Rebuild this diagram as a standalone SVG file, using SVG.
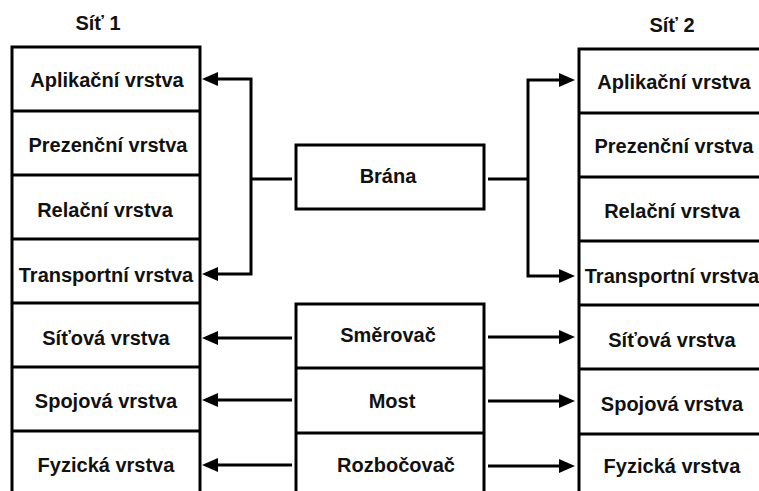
<svg xmlns="http://www.w3.org/2000/svg" width="759" height="491" viewBox="0 0 759 491">
  <style>
    .box { fill: #ffffff; stroke: #000000; stroke-width: 3; }
    .div { stroke: #000000; stroke-width: 3; }
    text { font-family: "Liberation Sans", Arial, sans-serif; font-weight: bold; font-size: 20px; fill: #111111; text-anchor: middle; }
    .conn { fill: none; stroke: #000000; stroke-width: 3; }
  </style>
  <defs>
    <marker id="head" markerUnits="userSpaceOnUse" markerWidth="17" markerHeight="15" refX="12" refY="7" orient="auto-start-reverse">
      <path d="M0,0 L16,7 L0,14 z" fill="#000000"/>
    </marker>
  </defs>

  <rect width="759" height="491" fill="#ffffff"/>

  <!-- Network 1 stack -->
  <g id="sit1">
    <text x="98" y="30">Síť 1</text>
    <rect class="box" x="12" y="47" width="188" height="460"/>
    <line class="div" x1="12" y1="111" x2="200" y2="111"/>
    <line class="div" x1="12" y1="175" x2="200" y2="175"/>
    <line class="div" x1="12" y1="239" x2="200" y2="239"/>
    <line class="div" x1="12" y1="303" x2="200" y2="303"/>
    <line class="div" x1="12" y1="367" x2="200" y2="367"/>
    <line class="div" x1="12" y1="431" x2="200" y2="431"/>
    <text x="107" y="87">Aplikační vrstva</text>
    <text x="108" y="152">Prezenční vrstva</text>
    <text x="105" y="217">Relační vrstva</text>
    <text x="106" y="282">Transportní vrstva</text>
    <text x="106" y="345">Síťová vrstva</text>
    <text x="106" y="408">Spojová vrstva</text>
    <text x="106" y="472">Fyzická vrstva</text>
  </g>

  <!-- Network 2 stack -->
  <g id="sit2">
    <text x="672" y="32">Síť 2</text>
    <rect class="box" x="579" y="49" width="190" height="460"/>
    <line class="div" x1="579" y1="113" x2="769" y2="113"/>
    <line class="div" x1="579" y1="177" x2="769" y2="177"/>
    <line class="div" x1="579" y1="241" x2="769" y2="241"/>
    <line class="div" x1="579" y1="305" x2="769" y2="305"/>
    <line class="div" x1="579" y1="369" x2="769" y2="369"/>
    <line class="div" x1="579" y1="434" x2="769" y2="434"/>
    <text x="674" y="89">Aplikační vrstva</text>
    <text x="674" y="153">Prezenční vrstva</text>
    <text x="672" y="218">Relační vrstva</text>
    <text x="672" y="283">Transportní vrstva</text>
    <text x="672" y="347">Síťová vrstva</text>
    <text x="672" y="411">Spojová vrstva</text>
    <text x="672" y="473">Fyzická vrstva</text>
  </g>

  <!-- Gateway -->
  <g id="brana">
    <rect class="box" x="296" y="145" width="188" height="64"/>
    <text x="388" y="183">Brána</text>
  </g>

  <!-- Router / bridge / hub stack -->
  <g id="zarizeni">
    <rect class="box" x="296" y="304" width="188" height="200"/>
    <line class="div" x1="296" y1="368" x2="484" y2="368"/>
    <line class="div" x1="296" y1="433" x2="484" y2="433"/>
  </g>
  <g id="smerovac"><text x="388" y="342">Směrovač</text></g>
  <g id="most"><text x="392" y="408">Most</text></g>
  <g id="rozbocovac"><text x="396" y="472">Rozbočovač</text></g>

  <!-- Connectors -->
  <g id="connectors">
    <path class="conn" d="M292,179 H251"/>
    <path class="conn" d="M206,79 H251 V274 H206" marker-start="url(#head)" marker-end="url(#head)"/>
    <path class="conn" d="M488,179 H528"/>
    <path class="conn" d="M571,80 H528 V276 H571" marker-start="url(#head)" marker-end="url(#head)"/>
    <path class="conn" d="M292,338 H206" marker-end="url(#head)"/>
    <path class="conn" d="M292,400 H206" marker-end="url(#head)"/>
    <path class="conn" d="M292,465 H206" marker-end="url(#head)"/>
    <path class="conn" d="M488,337 H571" marker-end="url(#head)"/>
    <path class="conn" d="M488,401 H571" marker-end="url(#head)"/>
    <path class="conn" d="M488,466 H571" marker-end="url(#head)"/>
  </g>
</svg>
